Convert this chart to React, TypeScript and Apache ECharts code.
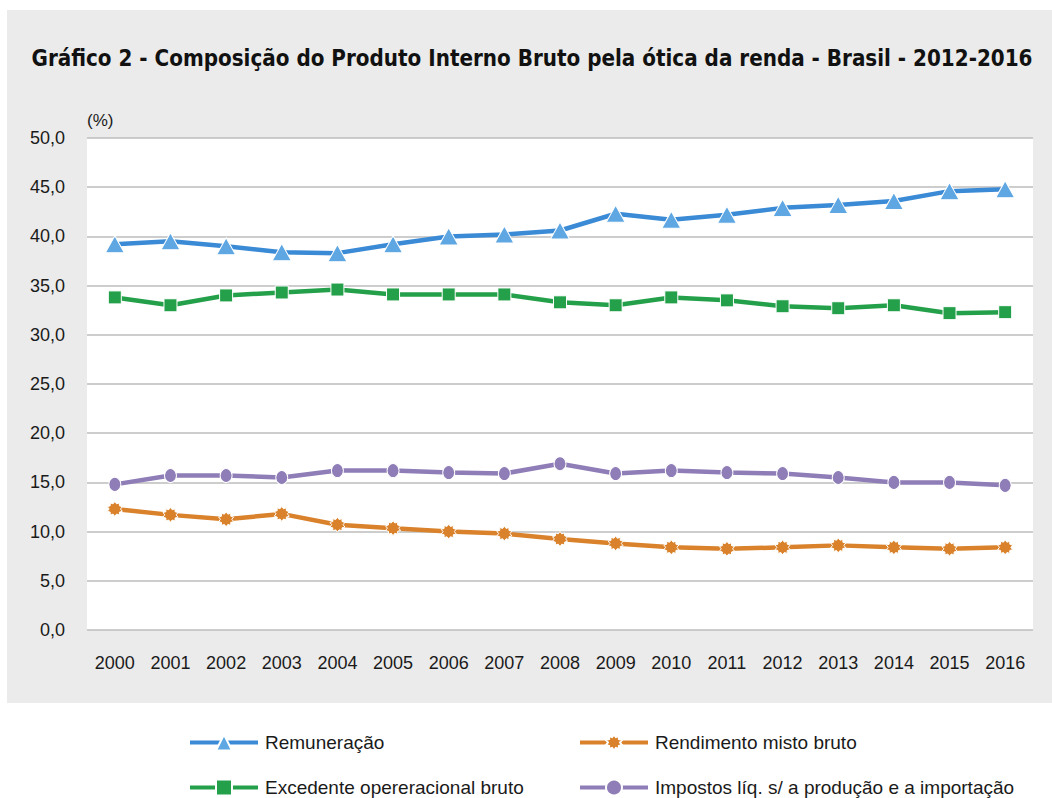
import React, { useEffect, useRef } from "react";
import * as echarts from "echarts";

const years = ["2000","2001","2002","2003","2004","2005","2006","2007","2008","2009","2010","2011","2012","2013","2014","2015","2016"];
const remuneracao = [39.2, 39.5, 39.0, 38.4, 38.3, 39.2, 40.0, 40.2, 40.6, 42.3, 41.7, 42.2, 42.9, 43.2, 43.6, 44.6, 44.8];
const excedente = [33.8, 33.0, 34.0, 34.3, 34.6, 34.1, 34.1, 34.1, 33.3, 33.0, 33.8, 33.5, 32.9, 32.7, 33.0, 32.2, 32.3];
const rendimento = [12.3, 11.7, 11.25, 11.8, 10.7, 10.35, 10.0, 9.8, 9.25, 8.8, 8.4, 8.25, 8.4, 8.6, 8.4, 8.25, 8.4];
const impostos = [14.8, 15.7, 15.7, 15.5, 16.2, 16.2, 16.0, 15.9, 16.9, 15.9, 16.2, 16.0, 15.9, 15.5, 15.0, 15.0, 14.7];

const names = ["Remuneração", "Rendimento misto bruto", "Excedente opereracional bruto", "Impostos líq. s/ a produção e a importação"];

function starPath(): string {
  const pts: string[] = [];
  const n = 10;
  for (let i = 0; i < n * 2; i++) {
    const r = i % 2 === 0 ? 10 : 7.2;
    const a = (Math.PI * i) / n - Math.PI / 2;
    pts.push((i === 0 ? "M" : "L") + (10 + r * Math.cos(a)).toFixed(2) + " " + (10 + r * Math.sin(a)).toFixed(2));
  }
  return "path://" + pts.join(" ") + " Z";
}

const FONT = "'Liberation Sans', Arial, sans-serif";

export default function App() {
  const ref = useRef<HTMLDivElement>(null);
  useEffect(() => {
    const chart = echarts.init(ref.current!, null, { renderer: "svg" });
    const star = starPath();
    const mk = (name: string, data: number[], line: string, fill: string, symbol: string, size: any) => ({
      name,
      type: "line",
      data,
      symbol,
      symbolSize: size,
      showAllSymbol: true,
      lineStyle: { color: line, width: 4.5 },
      itemStyle: { color: fill, borderColor: "#ffffff", borderWidth: 1 },
      emphasis: { disabled: true },
    });
    const legendBase = {
      orient: "horizontal",
      itemWidth: 68,
      itemHeight: 20,
      itemGap: 0,
      padding: 0,
      selectedMode: false,
      lineStyle: { width: 4 },
      textStyle: { fontSize: 19, color: "#1a1a1a", fontFamily: FONT, padding: [0, 0, 0, 2] },
    };
    chart.setOption({
      animation: false,
      textStyle: { fontFamily: FONT },
      title: {
        text: "Gráfico 2 - Composição do Produto Interno Bruto pela ótica da renda - Brasil - 2012-2016",
        left: 532,
        textAlign: "center",
        top: 47,
        padding: 0,
        textStyle: { fontSize: 22.2, fontWeight: "bold", color: "#111", fontFamily: "'DejaVu Sans Condensed', 'Liberation Sans Narrow', sans-serif" },
      },
      graphic: [
        { type: "rect", z: -10, silent: true, shape: { x: 7, y: 10, width: 1045, height: 693 }, style: { fill: "#ebebeb" } },
      ],
      grid: { left: 87, top: 138, width: 946, height: 492, show: true, backgroundColor: "#ffffff", borderWidth: 0 },
      legend: [
        { ...legendBase, left: 188, top: 733, data: [names[0]] },
        { ...legendBase, left: 578, top: 733, data: [names[1]] },
        { ...legendBase, left: 188, top: 778, data: [names[2]] },
        { ...legendBase, left: 578, top: 778, data: [names[3]] },
      ],
      xAxis: {
        type: "category",
        data: years,
        boundaryGap: true,
        axisLine: { show: false },
        axisTick: { show: false },
        axisLabel: { margin: 24, fontSize: 18, color: "#1a1a1a", fontFamily: FONT },
        splitLine: { show: false },
      },
      yAxis: {
        type: "value",
        min: 0,
        max: 50,
        interval: 5,
        name: "(%)",
        nameLocation: "end",
        nameGap: 9,
        nameTextStyle: { align: "left", fontSize: 17, color: "#1a1a1a", fontFamily: FONT },
        axisLine: { show: false },
        axisTick: { show: false },
        axisLabel: {
          margin: 22,
          fontSize: 18,
          color: "#1a1a1a",
          fontFamily: FONT,
          formatter: (v: number) => v.toFixed(1).replace(".", ","),
        },
        splitLine: { lineStyle: { color: "#bdbdbd", width: 1.5 } },
      },
      series: [
        mk(names[0], remuneracao, "#3a8ad6", "#5fa7e3", "triangle", [19, 17]),
        mk(names[1], rendimento, "#d9822b", "#d9822b", star, 15),
        mk(names[2], excedente, "#24a04a", "#24a04a", "rect", 13),
        mk(names[3], impostos, "#8e7db7", "#8e7db7", "circle", [12, 14]),
      ],
    });
    return () => chart.dispose();
  }, []);
  return <div ref={ref} style={{ position: "absolute", left: 0, top: 0, width: 1052, height: 798 }} />;
}
